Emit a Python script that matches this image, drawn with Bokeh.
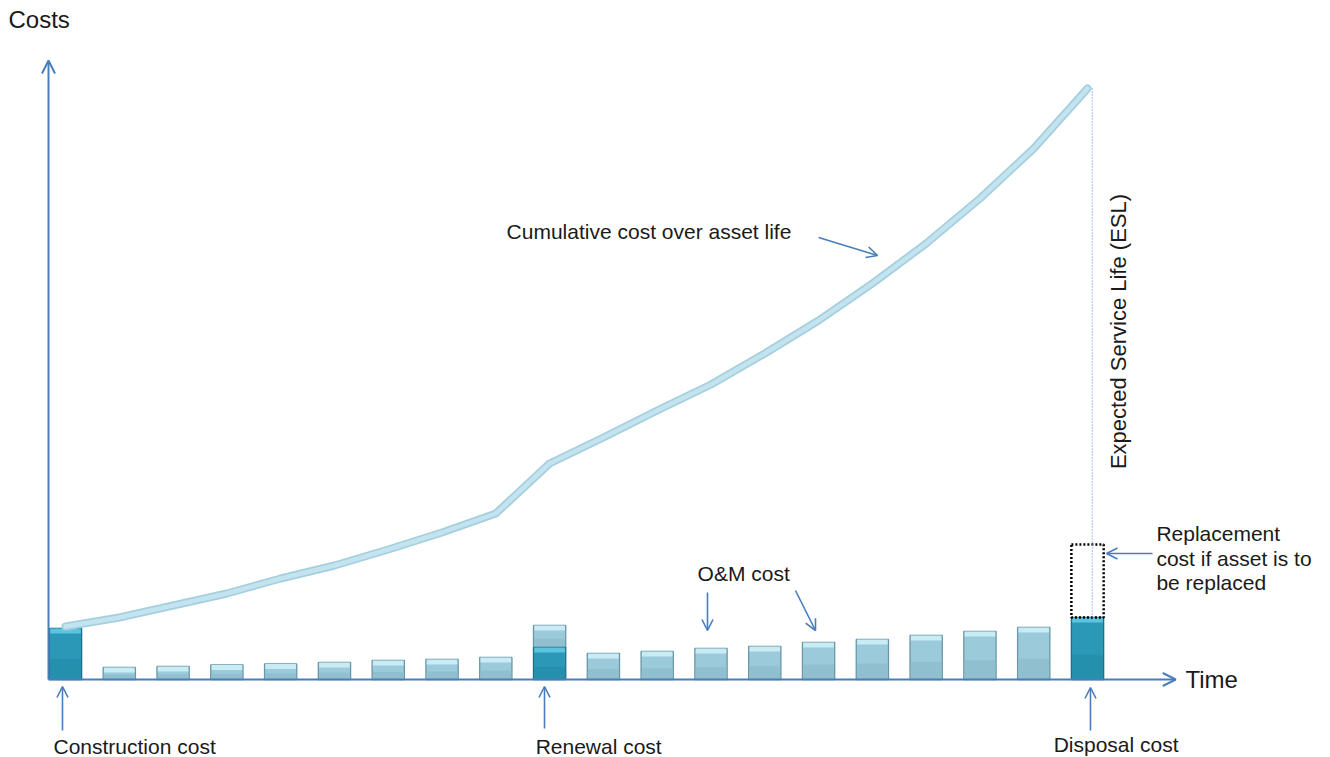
from math import pi

from bokeh.embed import file_html
from bokeh.models import Arrow, Label, OpenHead, Range1d, ColumnDataSource
from bokeh.plotting import figure
from bokeh.resources import INLINE

# ---- data -------------------------------------------------------------
periods = list(range(20))
# operation & maintenance cost in each period
om_cost = [0, 12, 13, 14.5, 15.5, 17, 19, 20, 22, 22,
           26, 28, 31, 33, 37, 40, 44, 48, 52, 0]
# one-off capital costs: construction, renewal, disposal
capital_period = [0, 9, 19]
capital_cost = [51, 32, 62]
capital_name = ["Construction cost", "Renewal cost", "Disposal cost"]
replacement_cost = 73
# cumulative cost over the asset life
cumulative = [53, 62, 74, 86, 101, 114, 130, 147, 166, 216,
              242, 269, 295, 326, 359, 396, 436, 481, 531, 591]

FONT = "Liberation Sans"
AXIS_BLUE = "#4a7ebb"
BAR_W = 0.6

p = figure(width=1330, height=757, output_backend="svg", toolbar_location=None,
           x_range=Range1d(-1.2084, 23.517), y_range=Range1d(-78, 679),
           x_axis_location=None, y_axis_location=None, min_border=0)
p.grid.visible = False
p.outline_line_color = None
p.background_fill_color = "white"

# ---- bars -------------------------------------------------------------
cap_top = {per: c for per, c in zip(capital_period, capital_cost)}
base = [cap_top.get(i, 0) for i in periods]
om_src = ColumnDataSource(dict(
    x=[i for i in periods if om_cost[i] > 0],
    bottom=[base[i] for i in periods if om_cost[i] > 0],
    top=[base[i] + om_cost[i] for i in periods if om_cost[i] > 0],
))
om_src.data["cap"] = [t - 5 for t in om_src.data["top"]]
om_src.data["shade"] = [b + 0.4 * (t - b) for b, t in zip(om_src.data["bottom"], om_src.data["top"])]

cap_src = ColumnDataSource(dict(x=capital_period, bottom=[0] * 3, top=capital_cost))
cap_src.data["cap"] = [t - 5 for t in capital_cost]
cap_src.data["shade"] = [0.4 * t for t in capital_cost]


def bevel_bars(src, body, lower, cap, edge):
    p.vbar(x="x", bottom="bottom", top="top", width=BAR_W, source=src,
           fill_color=body, line_color=edge, line_width=1.3)
    p.vbar(x="x", bottom="bottom", top="shade", width=BAR_W - 0.03, source=src,
           fill_color=lower, line_color=None)
    p.vbar(x="x", bottom="cap", top="top", width=BAR_W - 0.03, source=src,
           fill_color=cap, line_color=None)


# light O&M bars, then teal capital-cost bars
bevel_bars(om_src, "#9bcbda", "#90c0d0", "#c8ebf4", "#6a97a6")
bevel_bars(cap_src, "#2b98b7", "#2590ae", "#5cc4de", "#1d6f86")

# replacement cost: dotted outline stacked on the disposal bar
p.vbar(x=[capital_period[-1]], bottom=[capital_cost[-1]],
       top=[capital_cost[-1] + replacement_cost], width=BAR_W,
       fill_color=None, line_color="black", line_width=2.5, line_dash="2 2")

# ---- cumulative line --------------------------------------------------
p.line(periods, cumulative, line_width=8, line_color="#a4cfdf",
       line_join="round", line_cap="round")
p.line(periods, cumulative, line_width=4.5, line_color="#c3e3ee",
       line_join="round", line_cap="round")

# expected service life marker
p.line([periods[-1] + 0.09, periods[-1] + 0.09], [capital_cost[-1], cumulative[-1]],
       line_color="#6fa6d6", line_width=1.3, line_dash="1 2")

# ---- axes -------------------------------------------------------------
x0 = -0.316


def arrow(xs, ys, xe, ye, width=1.6, size=11):
    p.add_layout(Arrow(end=OpenHead(size=size, line_color=AXIS_BLUE, line_width=width),
                       x_start=xs, y_start=ys, x_end=xe, y_end=ye,
                       line_color=AXIS_BLUE, line_width=width))


arrow(x0, 0, x0, 619, width=2, size=13)
arrow(x0, 0, 20.64, 0, width=2, size=13)

# pointers to cost items
arrow(-0.056, -51, -0.056, -7)
arrow(8.905, -49, 8.905, -7)
arrow(19.055, -51, 19.055, -8)
arrow(14.0, 442, 15.097, 424)
arrow(11.935, 87, 11.935, 49)
arrow(13.571, 89, 13.943, 49)
arrow(20.208, 126, 19.353, 126)


def label(x, y, text, size="21px", align="left", angle=0):
    p.add_layout(Label(x=x, y=y, text=text, text_font=FONT, text_font_size=size,
                       text_color="#1a1a1a", text_align=align,
                       text_baseline="middle", angle=angle))


label(-1.06, 660, "Costs", size="24px")
label(20.82, 0, "Time", size="24px")
label(-0.223, -67, capital_name[0])
label(8.74, -67, capital_name[1])
label(18.37, -65, capital_name[2])
label(8.2, 448, "Cumulative cost over asset life")
label(11.75, 106, "O&M cost")
label(20.28, 146, "Replacement")
label(20.28, 121, "cost if asset is to")
label(20.28, 97, "be replaced")
label(19.58, 348, "Expected Service Life (ESL)", size="22px", align="center", angle=pi / 2)

open("out.html", "w").write(file_html(p, INLINE))
